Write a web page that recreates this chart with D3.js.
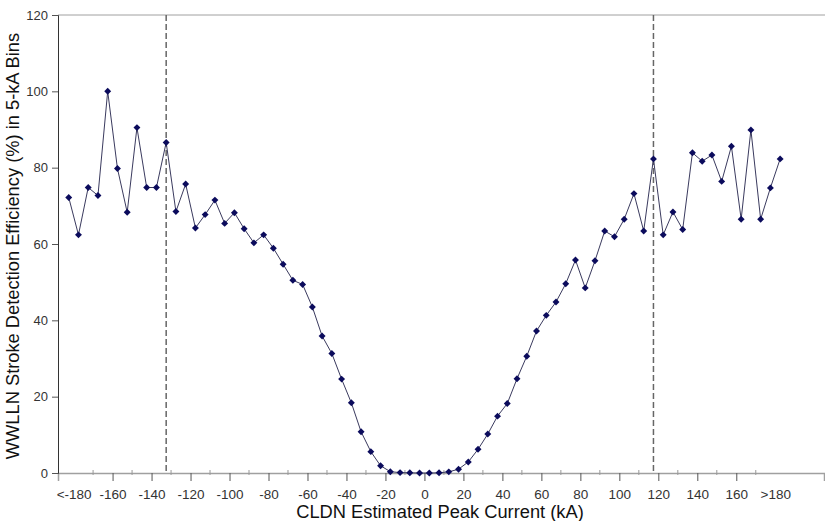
<!DOCTYPE html>
<html>
<head>
<meta charset="utf-8">
<script src="https://cdn.jsdelivr.net/npm/d3@7"></script>
<style>
  body { margin: 0; background: #fff; }
  svg { font-family: Arial, "Liberation Sans", sans-serif; }
</style>
</head>
<body>
<div id="vis"></div>
<script>
// bin centres (kA), first and last bins are "<-180" and ">180"
const binCentres = d3.range(-182.5, 183, 5);

const effLeft = [72.2, 62.4, 74.8, 72.7, 100, 79.8, 68.3, 90.5, 74.8, 74.8, 86.6,
  68.5, 75.7, 64.2, 67.7, 71.5, 65.4, 68.2, 64.0, 60.3, 62.4, 58.9];
const effMiddle = [54.7, 50.5, 49.4, 43.5, 35.9, 31.3, 24.6, 18.4, 10.8, 5.6, 1.9,
  0.35, 0.1, 0.05, 0, 0, 0.05, 0.3, 1.0, 2.9, 6.2, 10.2, 14.9, 18.2, 24.7, 30.6,
  37.2, 41.3, 44.8, 49.6];
const effRight = [55.8, 48.5, 55.6, 63.4, 61.9, 66.5, 73.2, 63.4, 82.3, 62.4, 68.4,
  63.8, 83.9, 81.7, 83.3, 76.4, 85.6, 66.5, 89.9, 66.5, 74.7, 82.3];
const efficiency = effLeft.concat(effMiddle, effRight);

const majorTicks = d3.range(-180, 181, 20);
const minorTicks = d3.range(-170, 171, 20);
const yTicks = [0, 20, 40, 60, 80, 100, 120];
const thresholds = [-132.5, 117.5];

const width = 825, height = 521;
const margin = { top: 15, right: 1, bottom: 48, left: 58 };

const svg = d3.select("#vis").append("svg")
  .attr("width", width)
  .attr("height", height);

const x = d3.scaleLinear()
  .domain([-188, 205])
  .range([margin.left, width - margin.right]);

const y = d3.scaleLinear()
  .domain([0, 120])
  .range([height - margin.bottom, margin.top]);

const data = binCentres.map((c, i) => ({ c: c, v: efficiency[i] }));

// top frame line
svg.append("line")
  .attr("x1", margin.left).attr("x2", width)
  .attr("y1", y(120)).attr("y2", y(120))
  .attr("stroke", "#a0a0a0");

////////// axes //////////

const xAxis = svg.append("g")
  .attr("transform", "translate(0," + y(0) + ")")
  .call(d3.axisBottom(x)
    .tickValues(majorTicks)
    .tickSizeOuter(0)
    .tickSize(8)
    .tickPadding(8)
    .tickFormat(d => d === -180 ? "<-180" : d === 180 ? ">180" : d));
xAxis.select(".domain").attr("stroke", "#a0a0a0").attr("stroke-width", 1.5);
xAxis.selectAll(".tick line").attr("stroke", "#555");
xAxis.selectAll(".tick")
  .filter(d => Math.abs(d) === 180)
  .select("line").remove();
xAxis.selectAll("text").attr("font-size", 13.5).attr("fill", "#333");

xAxis.selectAll(".minor")
  .data(minorTicks)
  .enter().append("line")
  .attr("class", "minor")
  .attr("x1", d => x(d)).attr("x2", d => x(d))
  .attr("y1", -3).attr("y2", 2)
  .attr("stroke", "#999");

const yAxis = svg.append("g")
  .attr("transform", "translate(" + margin.left + ",0)")
  .call(d3.axisLeft(y)
    .tickValues(yTicks)
    .tickSizeOuter(0)
    .tickSize(6)
    .tickPadding(4));
yAxis.select(".domain").attr("stroke", "#333");
yAxis.selectAll(".tick line").attr("stroke", "#555");
yAxis.selectAll("text").attr("font-size", 13).attr("fill", "#333");

svg.append("text")
  .attr("x", 440)
  .attr("y", 518)
  .attr("text-anchor", "middle")
  .attr("font-size", 18.3)
  .attr("fill", "#111")
  .text("CLDN Estimated Peak Current (kA)");

svg.append("text")
  .attr("transform", "translate(19," + (y(60) + 2) + ") rotate(-90)")
  .attr("text-anchor", "middle")
  .attr("font-size", 18.3)
  .attr("fill", "#111")
  .text("WWLLN Stroke Detection Efficiency (%) in 5-kA Bins");

////////// threshold lines //////////

svg.selectAll(".threshold")
  .data(thresholds)
  .enter().append("line")
  .attr("class", "threshold")
  .attr("x1", d => x(d)).attr("x2", d => x(d))
  .attr("y1", y(120)).attr("y2", y(0))
  .attr("stroke", "#666")
  .attr("stroke-width", 1.5)
  .attr("stroke-dasharray", "6,3");

////////// series //////////

const line = d3.line()
  .x(d => x(d.c))
  .y(d => y(d.v));

svg.append("path")
  .datum(data)
  .attr("d", line)
  .attr("fill", "none")
  .attr("stroke", "#3a3a5e")
  .attr("stroke-width", 1);

svg.selectAll(".marker")
  .data(data)
  .enter().append("path")
  .attr("class", "marker")
  .attr("d", d3.symbol(d3.symbolSquare, 24))
  .attr("transform", d => "translate(" + x(d.c) + "," + y(d.v) + ") rotate(45)")
  .attr("fill", "#0b0b5c");
</script>
</body>
</html>
